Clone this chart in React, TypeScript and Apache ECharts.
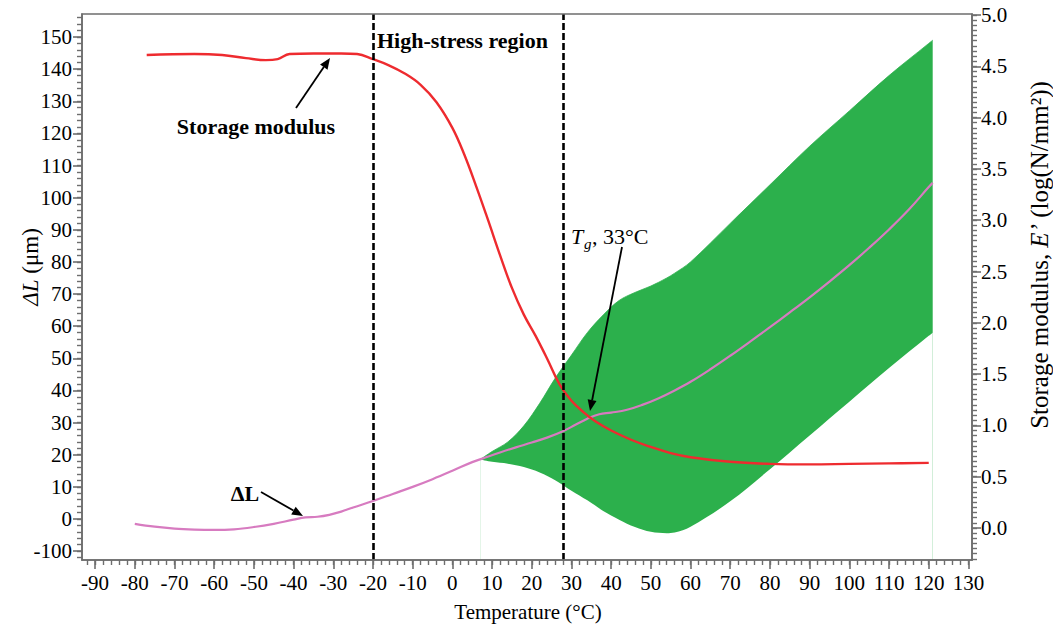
import React, { useEffect, useRef } from "react";
import * as echarts from "echarts";

// ---------- data ----------
const xTickValues = [-90, -80, -70, -60, -50, -40, -30, -20, -10, 0, 10, 20, 30, 40, 50, 60, 70, 80, 90, 100, 110, 120, 130];
const leftTickValues = [-10, 0, 10, 20, 30, 40, 50, 60, 70, 80, 90, 100, 110, 120, 130, 140, 150];
const rightTickValues = [0, 0.5, 1.0, 1.5, 2.0, 2.5, 3.0, 3.5, 4.0, 4.5, 5.0];

// ΔL (µm) vs temperature (pink line)
const dLT = [-80, -75, -70, -65, -60, -55, -50, -45, -40, -37, -34, -31, -28, -25, -20, -15, -10, -5, 0, 5, 8, 12, 16, 20, 24, 28, 31, 34, 37, 40, 44, 48, 52, 56, 60, 65, 70, 75, 80, 85, 90, 95, 100, 105, 110, 115, 120, 121];
const dLV = [-1.5, -2.4, -3.0, -3.3, -3.4, -3.2, -2.5, -1.5, -0.2, 0.5, 0.7, 1.3, 2.3, 3.6, 5.6, 7.8, 10.0, 12.4, 15.0, 17.7, 19.0, 20.7, 22.3, 23.8, 25.4, 27.4, 29.3, 31.2, 32.6, 33.1, 34.0, 35.6, 37.6, 40.0, 42.7, 46.6, 50.8, 55.2, 59.7, 64.3, 69.0, 73.9, 79.0, 84.4, 90.1, 96.3, 103.3, 104.6];

// Storage modulus E' (log N/mm²) vs temperature (red line)
const eT = [-77, -65, -58, -52, -47, -44, -41, -35, -28, -24, -20, -16, -12, -8, -4, 0, 3, 6, 9, 12, 15, 18, 21, 24, 27, 30, 33, 36, 40, 45, 50, 55, 60, 70, 80, 90, 100, 110, 120];
const eV = [4.61, 4.62, 4.61, 4.58, 4.56, 4.57, 4.62, 4.625, 4.625, 4.62, 4.57, 4.51, 4.43, 4.32, 4.15, 3.9, 3.64, 3.33, 3.0, 2.66, 2.34, 2.08, 1.87, 1.64, 1.4, 1.24, 1.13, 1.04, 0.95, 0.86, 0.79, 0.73, 0.69, 0.645, 0.625, 0.62, 0.625, 0.63, 0.635];

// ΔL oscillation envelope (green band)
const bandT = [7, 10, 14, 18, 22, 26, 30, 34, 38, 42, 46, 50, 54, 56, 60, 70, 80, 90, 100, 110, 120, 121];
const bandLower = [18.5, 17.8, 17.2, 16.2, 14.5, 12, 8.8, 5.8, 2.5, -0.2, -2.5, -4, -4.4, -4.2, -2.4, 5.5, 15.5, 26, 36.5, 47, 57, 58];
const bandUpper = [18.5, 21, 24, 29, 36, 44, 51, 58, 63.5, 68, 70.5, 72.5, 75, 76.5, 80, 92, 104, 116, 127, 138, 148, 149];

const dashedT = [-20, 28];

// ---------- style ----------
const FONT = '"Liberation Serif", "Times New Roman", serif';
const AXIS_COLOR = "#6e6e6e";
const GREEN = "#2cb04c";
const RED = "#ee2b2f";
const PINK = "#d77bc0";

function range(a: number, b: number, step: number): number[] {
  const out: number[] = [];
  for (let i = 0; a + i * step <= b + 1e-9; i++) out.push(+(a + i * step).toFixed(4));
  return out;
}

function arrow(x1: number, y1: number, x2: number, y2: number) {
  const ang = Math.atan2(y2 - y1, x2 - x1);
  const L = 11;
  const W = 4.5;
  const bx = x2 - L * Math.cos(ang);
  const by = y2 - L * Math.sin(ang);
  const px = -Math.sin(ang) * W;
  const py = Math.cos(ang) * W;
  return [
    { type: "line", z: 20, shape: { x1, y1, x2: bx, y2: by }, style: { stroke: "#000", lineWidth: 1.8 } },
    { type: "polygon", z: 20, shape: { points: [[x2, y2], [bx + px, by + py], [bx - px, by - py]] }, style: { fill: "#000" } },
  ];
}

const X_MIN = -93.3, X_MAX = 130.9;
const YL_MIN = -12.76, YL_MAX = 157.16;
const YR_MIN = -0.312, YR_MAX = 5.01;

export default function App() {
  const ref = useRef<HTMLDivElement>(null);
  useEffect(() => {
    if (!ref.current) return;
    const chart = echarts.init(ref.current, null, { renderer: "svg" });
    const tickLabel = { fontFamily: FONT, fontSize: 21, color: "#000" };
    const axisLine = { show: true, onZero: false, lineStyle: { color: AXIS_COLOR, width: 1.6 } };
    const hiddenLine = { show: false, onZero: false };
    const option: any = {
      animation: false,
      backgroundColor: "#fff",
      grid: { left: 82, right: 81, top: 14, bottom: 73, show: true, borderColor: AXIS_COLOR, borderWidth: 1.6, backgroundColor: "transparent", z: 10 },
      xAxis: [
        {
          type: "value", min: X_MIN, max: X_MAX, position: "bottom", z: 10,
          axisLine, splitLine: { show: false },
          axisTick: { show: true, inside: false, length: 9, customValues: xTickValues, lineStyle: { color: AXIS_COLOR, width: 1.6 } },
          axisLabel: { ...tickLabel, margin: 12, customValues: xTickValues, formatter: (v: number) => String(v) },
        },
        {
          type: "value", min: X_MIN, max: X_MAX, position: "bottom", z: 10,
          axisLine: hiddenLine, splitLine: { show: false }, axisLabel: { show: false },
          axisTick: { show: true, length: 5, customValues: range(-92, 130, 2), lineStyle: { color: AXIS_COLOR, width: 1.4 } },
        },
      ],
      yAxis: [
        {
          type: "value", min: YL_MIN, max: YL_MAX, position: "left", z: 10,
          axisLine, splitLine: { show: false },
          axisTick: { show: true, length: 9, customValues: leftTickValues, lineStyle: { color: AXIS_COLOR, width: 1.6 } },
          axisLabel: { ...tickLabel, margin: 10, customValues: leftTickValues, formatter: (v: number) => (v === -10 ? "-100" : String(v)) },
        },
        {
          type: "value", min: YL_MIN, max: YL_MAX, position: "left", z: 10,
          axisLine: hiddenLine, splitLine: { show: false }, axisLabel: { show: false },
          axisTick: { show: true, length: 5, customValues: range(-12, 156, 2), lineStyle: { color: AXIS_COLOR, width: 1.4 } },
        },
        {
          type: "value", min: YR_MIN, max: YR_MAX, position: "right", z: 10,
          axisLine, splitLine: { show: false },
          axisTick: { show: true, length: 9, customValues: rightTickValues, lineStyle: { color: AXIS_COLOR, width: 1.6 } },
          axisLabel: { ...tickLabel, margin: 9, customValues: rightTickValues, formatter: (v: number) => v.toFixed(1) },
        },
        {
          type: "value", min: YR_MIN, max: YR_MAX, position: "right", z: 10,
          axisLine: hiddenLine, splitLine: { show: false }, axisLabel: { show: false },
          axisTick: { show: true, length: 5, customValues: range(-0.3, 5.0, 0.05), lineStyle: { color: AXIS_COLOR, width: 1.4 } },
        },
      ],
      series: [
        {
          name: "bandUpper", type: "line", xAxisIndex: 0, yAxisIndex: 0, z: 1,
          data: bandT.map((t, i) => [t, bandUpper[i]]), symbol: "none", smooth: 0.35,
          lineStyle: { width: 0.8, color: GREEN }, areaStyle: { color: GREEN, opacity: 1, origin: "start" },
        },
        {
          name: "bandLower", type: "line", xAxisIndex: 0, yAxisIndex: 0, z: 1.5,
          data: bandT.map((t, i) => [t, bandLower[i]]), symbol: "none", smooth: 0.35,
          lineStyle: { width: 0 }, areaStyle: { color: "#ffffff", opacity: 1, origin: "start" },
        },
        {
          name: "ΔL", type: "line", xAxisIndex: 0, yAxisIndex: 0, z: 3,
          data: dLT.map((t, i) => [t, dLV[i]]), symbol: "none", smooth: 0.4,
          lineStyle: { width: 2.2, color: PINK },
        },
        {
          name: "Storage modulus", type: "line", xAxisIndex: 0, yAxisIndex: 2, z: 4,
          data: eT.map((t, i) => [t, eV[i]]), symbol: "none", smooth: 0.4,
          lineStyle: { width: 2.4, color: RED },
        },
        {
          name: "bounds", type: "line", xAxisIndex: 0, yAxisIndex: 0, z: 6, data: [],
          markLine: {
            silent: true, symbol: ["none", "none"], label: { show: false },
            lineStyle: { color: "#000", type: [7, 3], width: 2.6 },
            data: dashedT.map((t) => ({ xAxis: t })),
          },
        },
      ],
      graphic: [
        { type: "text", z: 20, x: 377, y: 40, style: { text: "High-stress region", fontFamily: FONT, fontSize: 22, fontWeight: "bold", fill: "#000", align: "left", verticalAlign: "middle" } },
        { type: "text", z: 20, x: 256, y: 126, style: { text: "Storage modulus", fontFamily: FONT, fontSize: 22, fontWeight: "bold", fill: "#000", align: "center", verticalAlign: "middle" } },
        { type: "text", z: 20, x: 245, y: 493, style: { text: "ΔL", fontFamily: FONT, fontSize: 22, fontWeight: "bold", fill: "#000", align: "center", verticalAlign: "middle" } },
        { type: "text", z: 20, x: 571, y: 236, style: { text: "T", fontFamily: FONT, fontSize: 22, fontStyle: "italic", fill: "#000", align: "left", verticalAlign: "middle" } },
        { type: "text", z: 20, x: 584, y: 244, style: { text: "g", fontFamily: FONT, fontSize: 15, fontStyle: "italic", fill: "#000", align: "left", verticalAlign: "middle" } },
        { type: "text", z: 20, x: 592, y: 236, style: { text: ", 33°C", fontFamily: FONT, fontSize: 22, fill: "#000", align: "left", verticalAlign: "middle" } },
        ...arrow(296, 108, 330, 58),
        ...arrow(261, 492, 303, 516),
        ...arrow(622, 247, 590, 411),
        { type: "text", z: 20, x: 528, y: 612, style: { text: "Temperature (°C)", fontFamily: FONT, fontSize: 21, fill: "#000", align: "center", verticalAlign: "middle" } },
        {
          type: "text", z: 20, x: 30, y: 267, rotation: Math.PI / 2,
          style: { text: "{i|ΔL} (μm)", fontFamily: FONT, fontSize: 23, fill: "#000", align: "center", verticalAlign: "middle", rich: { i: { fontFamily: FONT, fontSize: 23, fontStyle: "italic" } } },
        },
        {
          type: "text", z: 20, x: 1039, y: 255, rotation: Math.PI / 2,
          style: { text: "Storage modulus, {i|E’} (log(N/mm²))", fontFamily: FONT, fontSize: 25, fill: "#000", align: "center", verticalAlign: "middle", rich: { i: { fontFamily: FONT, fontSize: 25, fontStyle: "italic" } } },
        },
      ],
    };
    chart.setOption(option);
    return () => chart.dispose();
  }, []);
  return <div ref={ref} style={{ position: "fixed", left: 0, top: 0, width: 1053, height: 633, background: "#fff" }} />;
}
